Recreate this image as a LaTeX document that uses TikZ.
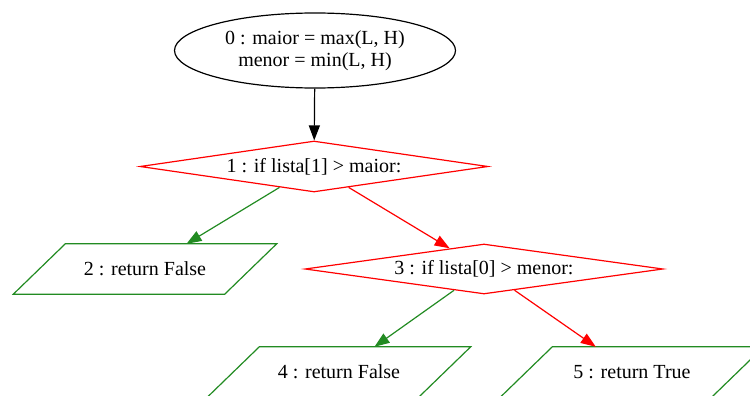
\documentclass[tikz,border=0pt]{standalone}
\usepackage{fontspec}
\setmainfont{Liberation Serif}
\usetikzlibrary{shapes.geometric,arrows.meta}
\definecolor{gvgreen}{RGB}{34,139,34}
\definecolor{gvred}{RGB}{255,0,0}
\tikzset{
  base/.style={font=\fontsize{20}{22}\selectfont, inner sep=0pt, align=center},
  startnode/.style={base, ellipse, draw=black, line width=1.2pt, minimum width=281pt, minimum height=75pt},
  decision/.style={base, diamond, draw=gvred, line width=1.2pt, aspect=6.8},
  para/.style={base, rectangle, draw=none, minimum width=211pt, minimum height=50pt,
    append after command={\pgfextra{\draw[gvgreen, line width=1.2pt, line join=miter]
      ([xshift=26pt]\tikzlastnode.north west) -- ([xshift=26pt]\tikzlastnode.north east) --
      ([xshift=-26pt]\tikzlastnode.south east) -- ([xshift=-26pt]\tikzlastnode.south west) -- cycle;}}},
  flow/.style={line width=1.2pt, -{Triangle[length=15pt,width=11pt]}},
}
\begin{document}
\begin{tikzpicture}[x=1pt, y=-1pt]
\useasboundingbox (0,0) rectangle (750,396);
\node[startnode] (n0) at (315,50.5) {0 : maior = max(L, H)\\menor = min(L, H)};
\node[decision, minimum width=348pt, minimum height=51pt] (n1) at (314,166.5) {1 : if lista[1] > maior:};
\node[para] (n2) at (145,269) {2 : return False};
\node[decision, minimum width=358pt, minimum height=50pt] (n3) at (484,269) {3 : if lista[0] > menor:};
\node[para] (n4) at (339,372) {4 : return False};
\node[para] (n5) at (632,372) {5 : return True};
\draw[flow, black] (n0) -- (n1);
\draw[flow, gvgreen] (n1) -- (n2);
\draw[flow, gvred] (n1) -- (n3);
\draw[flow, gvgreen] (n3) -- (n4);
\draw[flow, gvred] (n3) -- (n5);
\end{tikzpicture}
\end{document}
